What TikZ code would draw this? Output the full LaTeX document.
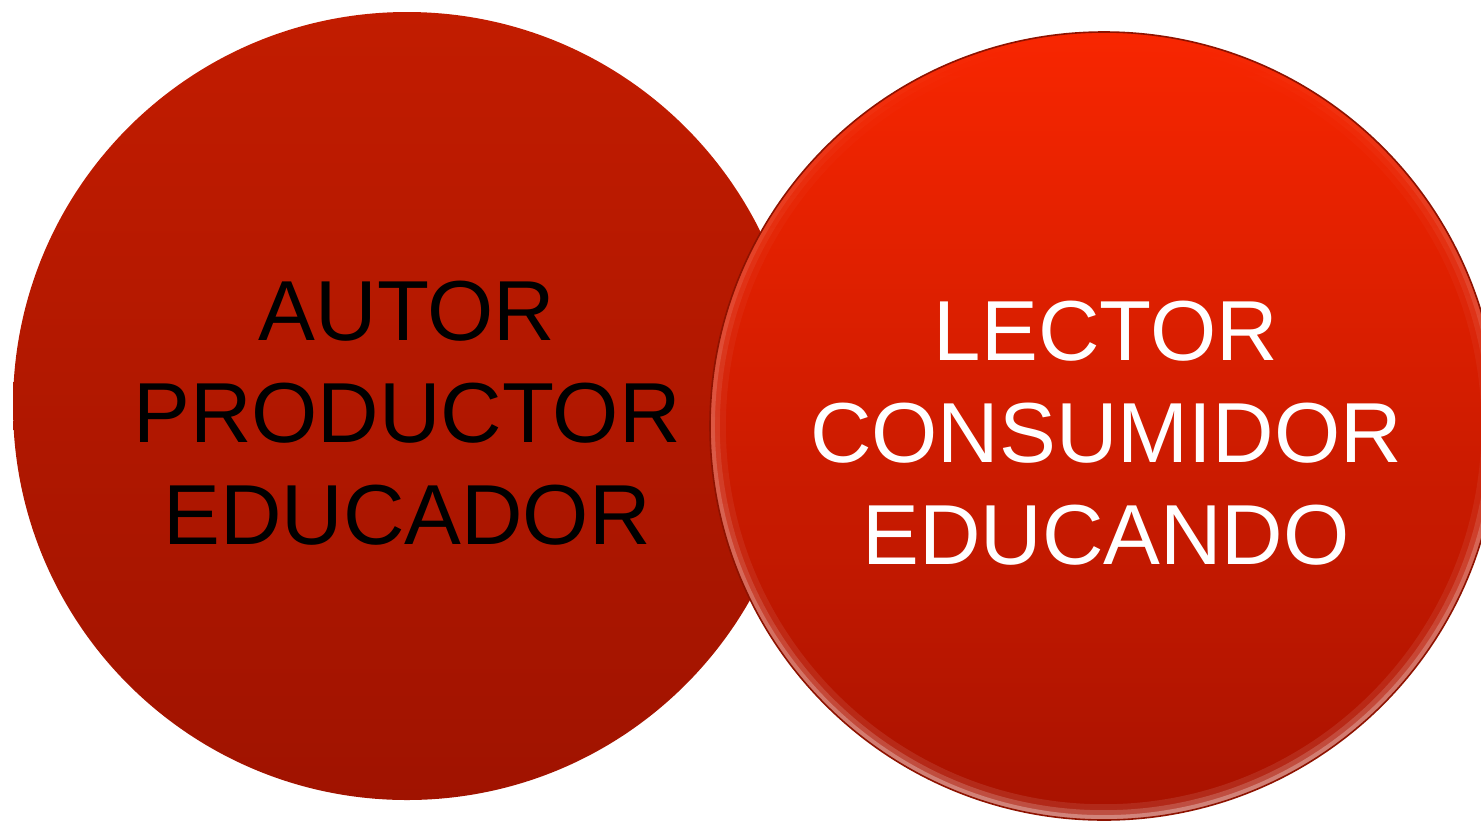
\documentclass[tikz,border=0pt]{standalone}
\usepackage{fontspec}
\setmainfont{Liberation Sans}
\usetikzlibrary{fadings}
\definecolor{ltop}{HTML}{C21C00}
\definecolor{lbot}{HTML}{A01300}
\definecolor{rtop}{HTML}{F82600}
\definecolor{rbot}{HTML}{A81200}
\definecolor{rim}{HTML}{8E1200}
\tikzset{
  ball/.style={circle, inner sep=0pt, minimum size=394pt},
  label/.style={align=center, inner sep=0pt, font=\fontsize{42.6}{51}\selectfont},
  glow/.style={white, path fading=north},
}
\begin{document}
\begin{tikzpicture}[x=0.5pt,y=-0.5pt]
\useasboundingbox (0,0) rectangle (1481,820);
\begin{scope}
\clip (0,0) rectangle (1481,820);
\node[ball, top color=ltop, bottom color=lbot] (left) at (407,406) {};
\node[ball, top color=rtop, bottom color=rbot] (right) at (1104,426) {};
\begin{scope}
\clip (1104,426) circle (394);
\draw[glow, opacity=0.10, line width=8pt] (1104,426) circle (386);
\draw[glow, opacity=0.18, line width=5pt] (1104,426) circle (389);
\draw[glow, opacity=0.30, line width=3pt] (1104,426) circle (392);
\end{scope}
\draw[rim, line width=0.8pt] (1104,426) circle (394);
\end{scope}
\node[label, text=black] (lt) at (407,413) {AUTOR\\PRODUCTOR\\EDUCADOR};
\node[label, text=white] (rt) at (1106,433) {LECTOR\\CONSUMIDOR\\EDUCANDO};
\end{tikzpicture}
\end{document}
